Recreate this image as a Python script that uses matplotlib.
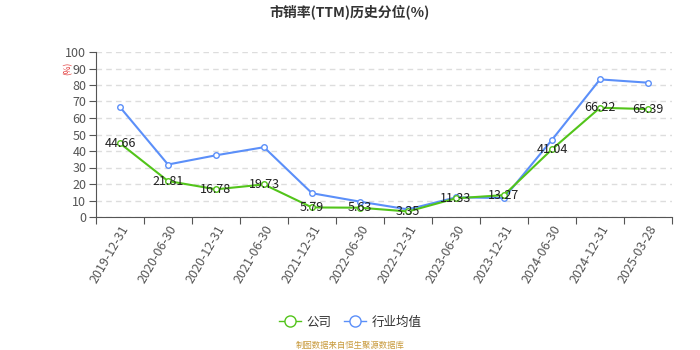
import matplotlib
matplotlib.use("Agg")
import matplotlib.pyplot as plt
from matplotlib.lines import Line2D

plt.rcParams['font.family'] = ['Noto Sans CJK SC', 'DejaVu Sans']

categories = ["2019-12-31", "2020-06-30", "2020-12-31", "2021-06-30", "2021-12-31",
              "2022-06-30", "2022-12-31", "2023-06-30", "2023-12-31", "2024-06-30",
              "2024-12-31", "2025-03-28"]
company = [44.66, 21.81, 16.78, 19.73, 5.79, 5.63, 3.35, 11.33, 13.27, 41.04, 66.22, 65.39]
industry = [66.6, 31.8, 37.4, 42.3, 14.4, 9.3, 4.6, 11.9, 11.5, 46.8, 83.4, 81.4]
yticks = [0, 10, 20, 30, 40, 50, 60, 70, 80, 90, 100]

green = "#52c41a"
blue = "#5b8ff9"

fig = plt.figure(figsize=(7, 3.5), dpi=100)
ax = fig.add_axes([96/700, 1-217/350, 576/700, 165/350])

x = list(range(len(categories)))
ax.plot(x, industry, color=blue, lw=1.5, marker='o', ms=4, mfc='white', mec=blue, mew=1, zorder=3)
ax.plot(x, company, color=green, lw=1.5, marker='o', ms=4, mfc='white', mec=green, mew=1, zorder=4)
for xi, v in zip(x, company):
    ax.text(xi, v, f"{v:.2f}", ha='center', va='center', fontsize=9, color='#222222', zorder=5)

ax.set_xlim(-0.5, len(categories)-0.5)
ax.set_ylim(0, 100)
ax.set_yticks(yticks)
ax.set_yticklabels([str(t) for t in yticks], fontsize=9, color='#555555')
ax.set_xticks([i-0.5 for i in range(len(categories)+1)])
ax.set_xticklabels([])
ax.set_xticks(x, minor=True)
ax.set_xticklabels(categories, minor=True, rotation=60, ha='right', rotation_mode='anchor',
                   fontsize=9, color='#555555')
ax.tick_params(axis='x', which='minor', length=0, pad=4)
ax.tick_params(axis='x', which='major', length=5, color='#555555')
ax.tick_params(axis='y', length=5, color='#555555', pad=2)
ax.grid(axis='y', linestyle=(0, (4, 3)), color='#dddddd', lw=1)
for s in ['top', 'right']:
    ax.spines[s].set_visible(False)
for s in ['left', 'bottom']:
    ax.spines[s].set_color('#555555')
ax.set_axisbelow(True)

fig.text(0.5, 1-12/350, "市销率(TTM)历史分位(%)", ha='center', va='center', fontsize=10,
         fontweight='bold', color='#333333')
fig.text(68/700, 1-68/350, "(%)", ha='center', va='center', rotation=90, fontsize=6, color='#e03030')

handles = [Line2D([0], [0], color=green, lw=1, marker='o', ms=8, mfc='white', mec=green),
           Line2D([0], [0], color=blue, lw=1, marker='o', ms=8, mfc='white', mec=blue)]
fig.legend(handles, ["公司", "行业均值"], loc='center', bbox_to_anchor=(0.5, 1-322/350), ncol=2,
           frameon=False, fontsize=9, handlelength=1.8, columnspacing=1.0, handletextpad=0.4,
           labelcolor='#333333')
fig.text(0.5, 1-345/350, "制图数据来自恒生聚源数据库", ha='center', va='center', fontsize=6, color='#c89a3c')

fig.savefig("out.png", dpi=100)
